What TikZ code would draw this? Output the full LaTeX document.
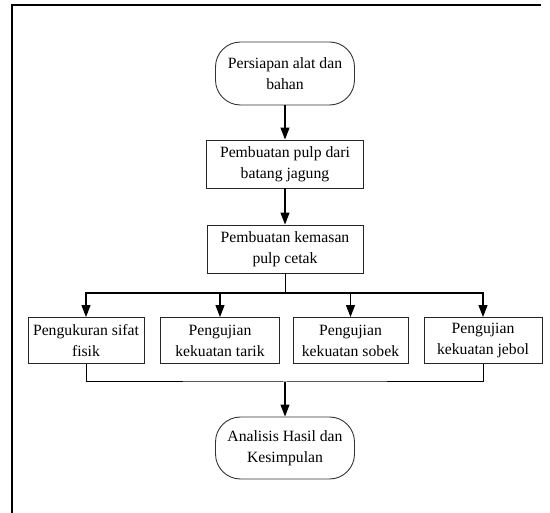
\documentclass[tikz,border=0pt]{standalone}
\usepackage{fontspec}
\setmainfont{Liberation Serif}
\usetikzlibrary{arrows.meta}
\begin{document}
\begin{tikzpicture}[x=1pt,y=-1pt,
  every node/.style={font=\fontsize{15.7}{21}\selectfont, align=center, inner sep=0pt},
  term/.style={draw=black!80, line width=0.9pt, rounded corners=25pt, minimum width=139pt, minimum height=63pt},
  procbox/.style={draw=black!85, line width=0.9pt, minimum height=48pt},
  testbox/.style={draw=black!85, line width=0.9pt, minimum height=46pt},
  arr/.style={line width=1.1pt, -{Triangle[length=12pt,width=9pt]}},
  ln/.style={line width=1pt}]
\useasboundingbox (0,0) rectangle (550,513);
\draw[line width=1.4pt] (12,513) -- (12,5) -- (541,5);
\node[term] (start) at (285,73.5) {Persiapan alat dan\\bahan};
\node[procbox, minimum width=157pt] (pulp) at (285,164) {Pembuatan pulp dari\\batang jagung};
\node[procbox, minimum width=156pt] (kemas) at (285,249) {Pembuatan kemasan\\pulp cetak};
\node[testbox, minimum width=116pt] (A) at (86,340.5) {Pengukuran sifat\\fisik};
\node[testbox, minimum width=119pt] (B) at (220,340.5) {Pengujian\\kekuatan tarik};
\node[testbox, minimum width=115pt] (C) at (350.5,340.5) {Pengujian\\kekuatan sobek};
\node[testbox, minimum width=118pt] (D) at (483,340.5) {Pengujian\\kekuatan jebol};
\node[term, minimum height=62pt] (end) at (285,448) {Analisis Hasil dan\\Kesimpulan};
\coordinate (busT) at (285,293);
\coordinate (busB) at (285,382);
\draw[arr] (start) -- (pulp);
\draw[arr] (pulp) -- (kemas);
\draw[ln] (kemas) -- (busT);
\draw[arr] (busT) -| (A);
\draw[arr] (busT) -| (B);
\draw[arr] (busT) -| (C);
\draw[arr] (busT) -| (D);
\draw[ln] (A.south) |- (busB) -| (D.south);
\draw[arr] (busB) -- (end);
\end{tikzpicture}
\end{document}
